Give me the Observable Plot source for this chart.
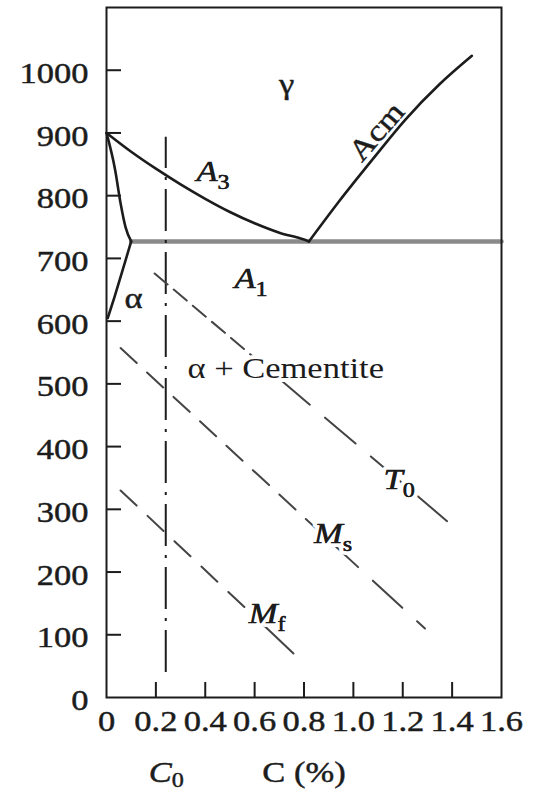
<!DOCTYPE html>
<html>
<head>
<meta charset="utf-8">
<script src="https://cdn.jsdelivr.net/npm/d3@7"></script>
<script src="https://cdn.jsdelivr.net/npm/@observablehq/plot@0.6"></script>
<style>
  html, body { margin: 0; padding: 0; background: #fff; }
  #chart { width: 541px; height: 794px; }
</style>
</head>
<body>
<div id="chart"></div>
<script>
// Axis ticks: labelled values and the short inward tick marks
const xTickLabels = [0, 0.2, 0.4, 0.6, 0.8, 1.0, 1.2, 1.4, 1.6];
const xTickMarks = [0.2, 0.4, 0.6, 0.8, 1.0, 1.2, 1.4];
const yTickLabels = [0, 100, 200, 300, 400, 500, 600, 700, 800, 900, 1000];
const yTickMarks = [100, 200, 300, 400, 500, 600, 700, 800, 900, 1000];

// Phase boundaries: carbon content c (%) and temperature t (°C)
const a3Curve = [
  {c: 0.00, t: 900}, {c: 0.10, t: 870}, {c: 0.20, t: 843}, {c: 0.30, t: 818},
  {c: 0.40, t: 795}, {c: 0.50, t: 774}, {c: 0.60, t: 756}, {c: 0.70, t: 741},
  {c: 0.80, t: 730}, {c: 0.82, t: 727}
];
const acmCurve = [
  {c: 0.82, t: 727}, {c: 0.94, t: 790}, {c: 1.08, t: 859},
  {c: 1.21, t: 921}, {c: 1.35, t: 978}, {c: 1.48, t: 1023}
];
const ferriteUpper = [
  {c: 0.00, t: 900}, {c: 0.035, t: 841}, {c: 0.057, t: 788}, {c: 0.077, t: 750}, {c: 0.10, t: 727}
];
const ferriteLower = [
  {c: 0.10, t: 727}, {c: 0.065, t: 681}, {c: 0.032, t: 638}, {c: 0.005, t: 605}
];
const a1Line = [{c: 0.10, t: 727}, {c: 1.60, t: 727}];

// Alloy composition C0 (dash-dot line)
const c0Line = [{c: 0.24, t1: 40, t2: 893}];

// Transformation lines; the middle point is where the dash pattern changes
const t0Points = [{c: 0.195, t: 676}, {c: 0.70, t: 508}, {c: 1.41, t: 271}];
const msPoints = [{c: 0.057, t: 557}, {c: 0.90, t: 251}, {c: 1.29, t: 110}];
const mfPoints = [{c: 0.057, t: 330}, {c: 0.64, t: 114}, {c: 0.795, t: 56}];

// Plain region labels
const regionLabels = [
  {c: 0.73, t: 962, text: "γ"},
  {c: 0.11, t: 621, text: "α"}
];
const cementiteLabel = [{c: 0.328, t: 510, text: "α + Cementite"}];
const acmLabel = [{c: 1.123, t: 892, text: "Acm"}];

// Line labels with a subscript (position = where the subscript begins)
const lineLabels = [
  {c: 0.450, t: 823, main: "A", sub: "3"},
  {c: 0.604, t: 653, main: "A", sub: "1"},
  {c: 1.200, t: 333, main: "T", sub: "0"},
  {c: 0.957, t: 247, main: "M", sub: "s"},
  {c: 0.693, t: 118, main: "M", sub: "f"}
];

const INK = "#1c1c1c";
const DASH = "#444444";
const SHORT_T0 = "17,8", SHORT_MS = "22,14", SHORT_MF = "22,15", LONG = "40,20";
const halo = {stroke: "white", strokeWidth: 8, fill: INK};
const xFormat = (d) => (d === 0 ? "0" : d.toFixed(1));
const yFormat = (d) => String(d);

const plot = Plot.plot({
  width: 541,
  height: 794,
  marginLeft: 106,
  marginRight: 40,
  marginTop: 7,
  marginBottom: 97,
  x: {domain: [0, 1.6], label: null},
  y: {domain: [0, 1100], label: null},
  style: {
    fontFamily: "'Liberation Serif', 'Times New Roman', serif",
    fontSize: "30px",
    color: INK,
    background: "white"
  },
  marks: [
    // eutectoid isotherm
    Plot.line(a1Line, {x: "c", y: "t", stroke: "#8a8a8a", strokeWidth: 4.5}),
    // equilibrium boundaries
    Plot.line(a3Curve, {x: "c", y: "t", stroke: INK, strokeWidth: 2.6, curve: "monotone-x"}),
    Plot.line(ferriteUpper, {x: "c", y: "t", stroke: INK, strokeWidth: 2.6, curve: "monotone-x"}),
    Plot.line(ferriteLower, {x: "c", y: "t", stroke: INK, strokeWidth: 2.6}),
    Plot.line(acmCurve, {x: "c", y: "t", stroke: INK, strokeWidth: 2.6, curve: "monotone-x"}),
    // C0 composition
    Plot.ruleX(c0Line, {x: "c", y1: "t1", y2: "t2", stroke: INK, strokeWidth: 2, strokeDasharray: "42,9,3,9"}),
    // T0, Ms, Mf
    Plot.line(t0Points.slice(0, 2), {x: "c", y: "t", stroke: DASH, strokeWidth: 2, strokeDasharray: SHORT_T0}),
    Plot.line(t0Points.slice(1), {x: "c", y: "t", stroke: DASH, strokeWidth: 2, strokeDasharray: LONG}),
    Plot.line(msPoints.slice(0, 2), {x: "c", y: "t", stroke: DASH, strokeWidth: 2, strokeDasharray: SHORT_MS}),
    Plot.line(msPoints.slice(1), {x: "c", y: "t", stroke: DASH, strokeWidth: 2, strokeDasharray: LONG}),
    Plot.line(mfPoints.slice(0, 2), {x: "c", y: "t", stroke: DASH, strokeWidth: 2, strokeDasharray: SHORT_MF}),
    Plot.line(mfPoints.slice(1), {x: "c", y: "t", stroke: DASH, strokeWidth: 2, strokeDasharray: LONG}),

    // labels
    Plot.text(regionLabels, {x: "c", y: "t", text: "text", lineAnchor: "bottom", fill: INK}),
    Plot.text(cementiteLabel, {x: "c", y: "t", text: "text", lineAnchor: "bottom", textAnchor: "start", ...halo}),
    Plot.text(acmLabel, {x: "c", y: "t", text: "text", lineAnchor: "bottom", rotate: -49, fill: INK}),
    Plot.text(lineLabels, {x: "c", y: "t", text: "main", lineAnchor: "bottom", textAnchor: "end", fontStyle: "italic", ...halo}),
    Plot.text(lineLabels, {x: "c", y: "t", text: "sub", lineAnchor: "bottom", textAnchor: "start", fontSize: 21, dy: 8, ...halo}),
    Plot.text(lineLabels, {x: "c", y: "t", text: "main", lineAnchor: "bottom", textAnchor: "end", fontStyle: "italic", fill: INK}),
    Plot.text(lineLabels, {x: "c", y: "t", text: "sub", lineAnchor: "bottom", textAnchor: "start", fontSize: 21, dy: 8, fill: INK}),

    // C0 and axis title below the axis
    Plot.text(c0Line, {x: "c", frameAnchor: "bottom", text: () => "C", fontStyle: "italic", textAnchor: "end", lineAnchor: "bottom", dx: 6, dy: 84, fill: INK}),
    Plot.text(c0Line, {x: "c", frameAnchor: "bottom", text: () => "0", fontSize: 21, textAnchor: "start", lineAnchor: "bottom", dx: 6, dy: 89, fill: INK}),
    Plot.text(["C (%)"], {frameAnchor: "bottom", text: (d) => d, lineAnchor: "bottom", dy: 84, fill: INK}),

    // axes: labels outside, short ticks inside the frame
    Plot.axisY(yTickLabels, {tickSize: 0, tickPadding: 18, dy: 3, tickFormat: yFormat, label: null}),
    Plot.axisY(yTickMarks, {tickSize: 15, dx: 15, strokeWidth: 2, tickFormat: () => "", label: null}),
    Plot.axisX(xTickLabels, {tickSize: 0, tickPadding: 12, tickFormat: xFormat, label: null}),
    Plot.axisX(xTickMarks, {tickSize: 15, dy: -15, strokeWidth: 2, tickFormat: () => "", label: null}),
    Plot.frame({stroke: INK, strokeWidth: 2})
  ]
});

// widen the serif lettering slightly around each text anchor and give it a bit more weight
const SX = 1.15;
plot.querySelectorAll("text").forEach((el) => {
  const t = el.getAttribute("transform");
  if (t) {
    el.setAttribute("transform", `${t} scale(${SX},1)`);
  } else {
    const x = +el.getAttribute("x") || 0;
    const y = +el.getAttribute("y") || 0;
    el.setAttribute("x", 0);
    el.setAttribute("y", 0);
    el.setAttribute("transform", `translate(${x},${y}) scale(${SX},1)`);
  }
});
plot.querySelectorAll("g[aria-label$='text'], g[aria-label$='tick label']").forEach((g) => {
  const s = g.getAttribute("stroke");
  if (!s || s === "none") {
    g.setAttribute("stroke", INK);
    g.setAttribute("stroke-width", 0.45);
  }
});

document.getElementById("chart").appendChild(plot);
</script>
</body>
</html>
